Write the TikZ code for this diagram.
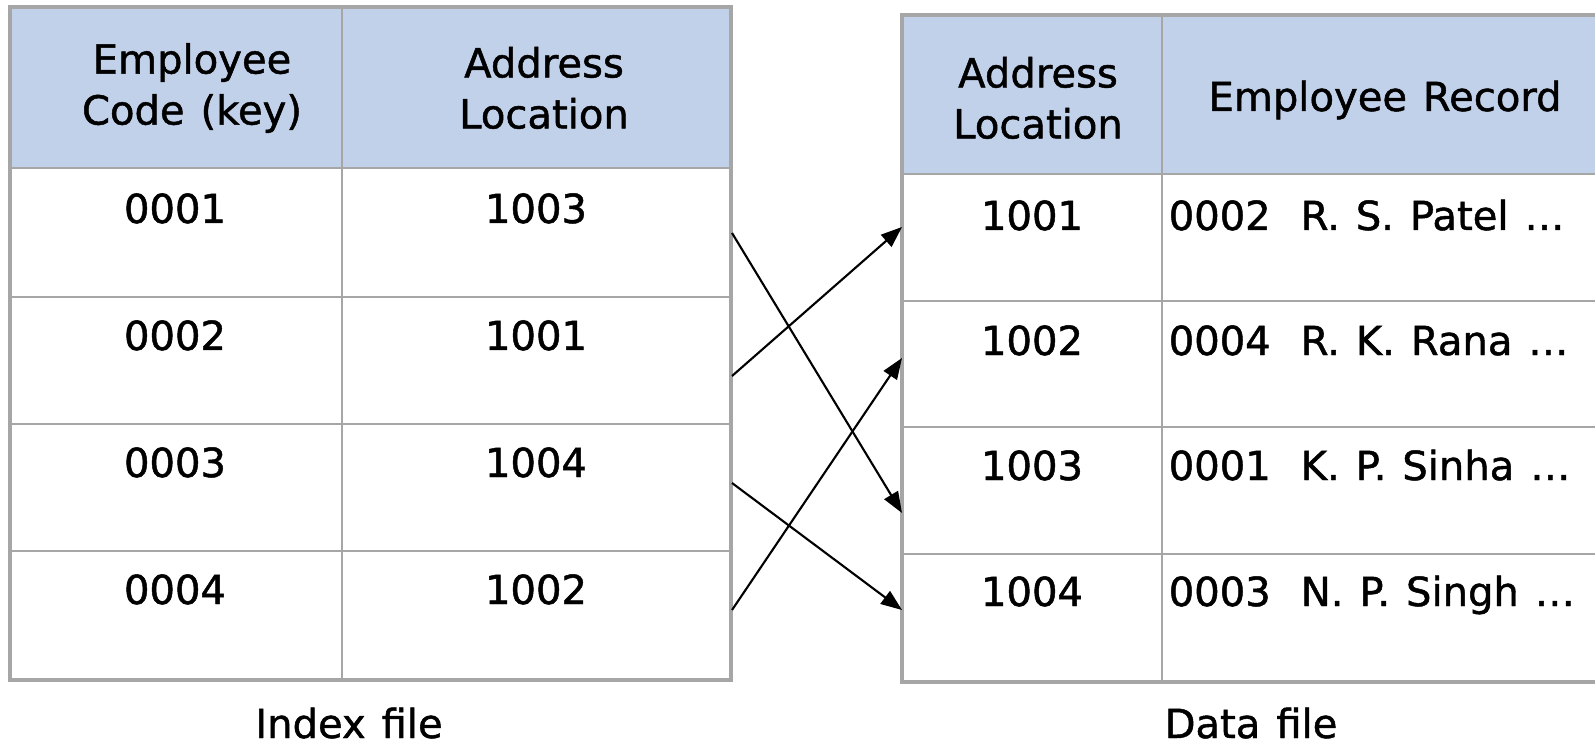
\documentclass[tikz,border=0pt]{standalone}
\usepackage{fontspec}
\setmainfont[FakeBold=0]{DejaVu Sans}
\newfontfamily\tabfont[FakeBold=1.2,WordSpace=1.25]{DejaVu Sans}
\usetikzlibrary{arrows.meta}
\definecolor{headblue}{RGB}{194,209,234}
\definecolor{gridgray}{RGB}{166,166,166}

\begin{document}
\begin{tikzpicture}[x=0.01cm,y=-0.01cm,
	txt/.style={font=\tabfont\fontsize{11.4}{14.5}\selectfont,inner sep=0pt},
	head/.style={txt,align=center},
	val/.style={txt,anchor=base},
	rec/.style={txt,anchor=base west},
	outer/.style={draw=gridgray,line width=0.9pt},
	inner/.style={draw=gridgray,line width=0.35pt},
	link/.style={-{Triangle[length=6pt,width=4.5pt]},line width=0.6pt}]
	\useasboundingbox (0,0) rectangle (1595,743);
	\clip (0,0) rectangle (1595,743);
	% index file
	\fill[headblue] (10,7) rectangle (731,168);
	\draw[inner] (342,7) -- (342,680);
	\foreach \y in {168,297,424,551} \draw[inner] (10,\y) -- (731,\y);
	\draw[outer] (10,7) rectangle (731,680);
	\node[head] (keyhead) at (192,88) {Employee\\Code (key)};
	\node[head] (adrhead) at (544,88) {Address\\Location};
	\foreach \k/\a/\y [count=\i] in {0001/1003/223,0002/1001/350,0003/1004/477,0004/1002/604}
	{
		\node[val] (key\i) at (175,\y) {\k};
		\node[val] (adr\i) at (536,\y) {\a};
	}
	\node[val] (index) at (349,738) {Index file};
	% data file
	\fill[headblue] (902,15) rectangle (1600,174);
	\draw[inner] (1162,15) -- (1162,682);
	\foreach \y in {174,301,427,554} \draw[inner] (902,\y) -- (1600,\y);
	\draw[outer] (902,15) rectangle (1600,682);
	\node[head] (lochead) at (1038,98) {Address\\Location};
	\node[val] (rechead) at (1385,111) {Employee Record};
	\foreach \l/\r/\y [count=\i] in {1001/{0002\hspace{0.75em}R. S. Patel …}/230,
		1002/{0004\hspace{0.75em}R. K. Rana …}/355,
		1003/{0001\hspace{0.75em}K. P. Sinha …}/480,
		1004/{0003\hspace{0.75em}N. P. Singh …}/606}
	{
		\node[val] (loc\i) at (1032,\y) {\l};
		\node[rec] (rec\i) at (1168,\y) {\r};
	}
	\node[val] (data) at (1251,738) {Data file};
	% pointers
	\coordinate (out1) at (732,233);
	\coordinate (out2) at (732,376);
	\coordinate (out3) at (732,483);
	\coordinate (out4) at (732,610);
	\coordinate (in1) at (902,227);
	\coordinate (in2) at (902,358);
	\coordinate (in3) at (902,513);
	\coordinate (in4) at (902,610);
	\draw[link] (out1) -- (in3);
	\draw[link] (out2) -- (in1);
	\draw[link] (out3) -- (in4);
	\draw[link] (out4) -- (in2);
\end{tikzpicture}
\end{document}
